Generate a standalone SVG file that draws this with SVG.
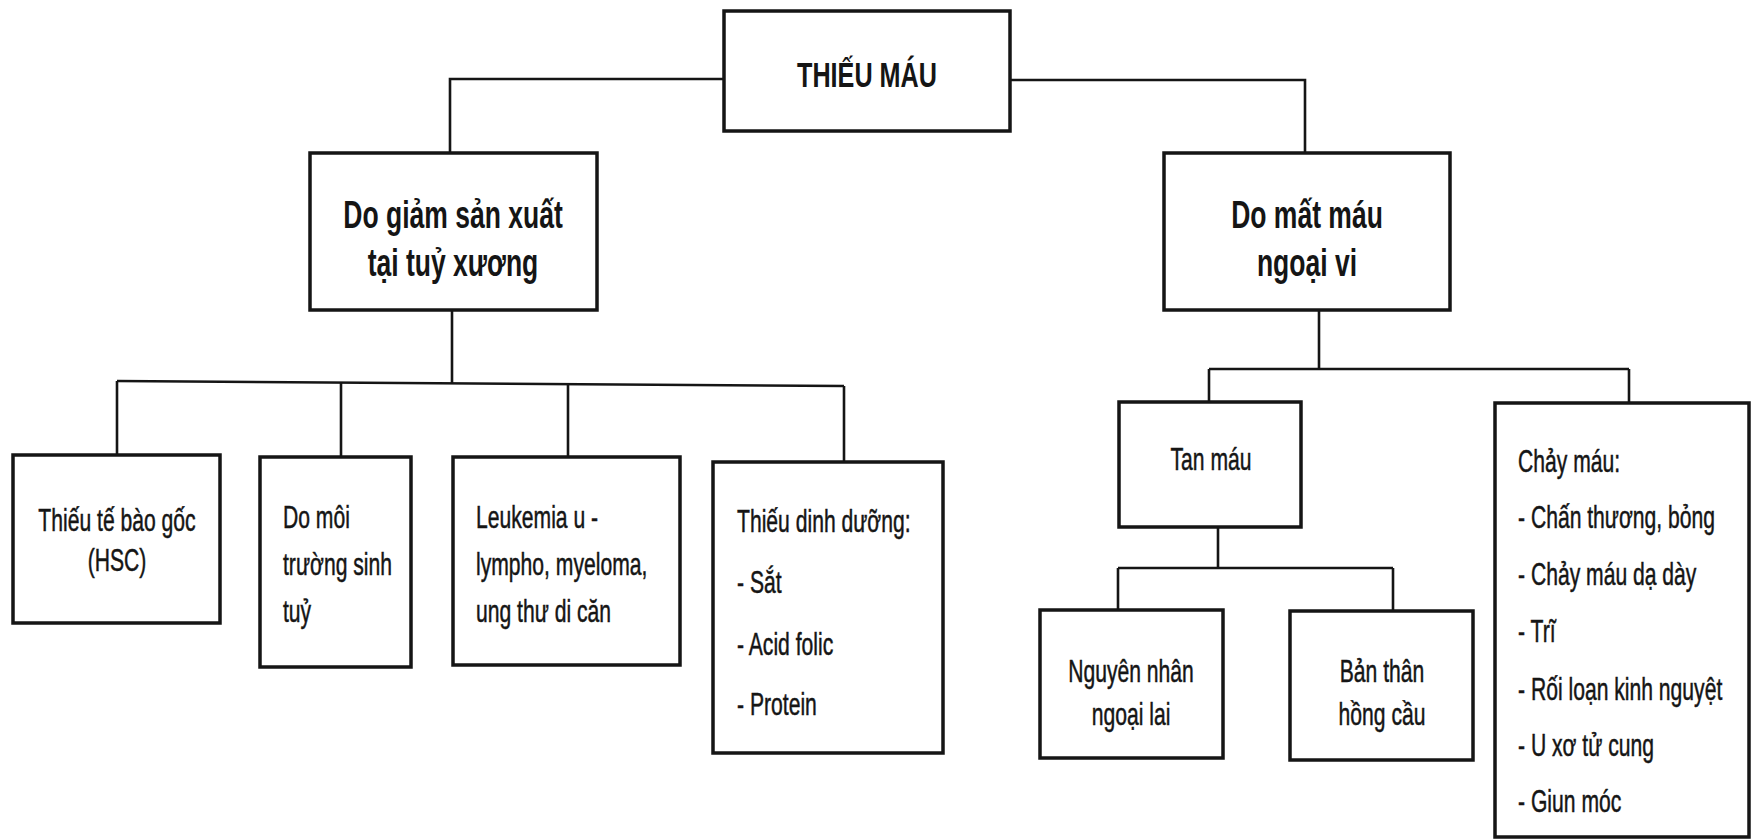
<svg xmlns="http://www.w3.org/2000/svg" width="1752" height="839" viewBox="0 0 1752 839">
<style>
.box{fill:#fff;stroke:#151515;stroke-width:3.5}
.ln{fill:none;stroke:#151515;stroke-width:2.6}
text{font-family:"Liberation Sans",Arial,sans-serif;fill:#151515}
.t{font-size:32px;stroke:#151515;stroke-width:0.5}
.b{font-size:39px;font-weight:bold}
.r{font-size:36px;font-weight:bold}
.c{text-anchor:middle}
</style>
<rect width="1752" height="839" fill="#fff"/>
<g id="connectors">
<path class="ln" d="M724,79 H450 V153"/>
<path class="ln" d="M1010,80 H1305 V153"/>
<path class="ln" d="M452,310 V383"/>
<path class="ln" d="M117,381 L844,386"/>
<path class="ln" d="M117,381 V455"/>
<path class="ln" d="M341,382 V457"/>
<path class="ln" d="M568,384 V457"/>
<path class="ln" d="M844,386 V462"/>
<path class="ln" d="M1319,310 V369"/>
<path class="ln" d="M1209,369 H1629"/>
<path class="ln" d="M1209,369 V402"/>
<path class="ln" d="M1629,369 V403"/>
<path class="ln" d="M1218,527 V568"/>
<path class="ln" d="M1118,568 H1393"/>
<path class="ln" d="M1118,568 V610"/>
<path class="ln" d="M1393,568 V611"/>
</g>
<g id="root">
<rect class="box" x="724" y="11" width="286" height="120"/>
<g transform="translate(867,0) scale(0.7,1)"><text class="r c" x="0" y="87">THIẾU MÁU</text></g>
</g>
<g id="n-sanxuat">
<rect class="box" x="310" y="153" width="287" height="157"/>
<g transform="translate(453,0) scale(0.68,1)"><text class="b c" x="0" y="228">Do giảm sản xuất</text><text class="b c" x="0" y="276">tại tuỷ xương</text></g>
</g>
<g id="n-matmau">
<rect class="box" x="1164" y="153" width="286" height="157"/>
<g transform="translate(1307,0) scale(0.68,1)"><text class="b c" x="0" y="228">Do mất máu</text><text class="b c" x="0" y="276">ngoại vi</text></g>
</g>
<g id="n-hsc">
<rect class="box" x="13" y="455" width="207" height="168"/>
<g transform="translate(117,0) scale(0.66,1)"><text class="t c" x="0" y="531">Thiếu tế bào gốc</text><text class="t c" x="0" y="571">(HSC)</text></g>
</g>
<g id="n-moitruong">
<rect class="box" x="260" y="457" width="151" height="210"/>
<g transform="translate(283,0) scale(0.66,1)"><text class="t" x="0" y="528">Do môi</text><text class="t" x="0" y="575">trường sinh</text><text class="t" x="0" y="622">tuỷ</text></g>
</g>
<g id="n-leukemia">
<rect class="box" x="453" y="457" width="227" height="208"/>
<g transform="translate(476,0) scale(0.66,1)"><text class="t" x="0" y="528">Leukemia u -</text><text class="t" x="0" y="575">lympho, myeloma,</text><text class="t" x="0" y="622">ung thư di căn</text></g>
</g>
<g id="n-dinhduong">
<rect class="box" x="713" y="462" width="230" height="291"/>
<g transform="translate(737,0) scale(0.66,1)"><text class="t" x="0" y="532">Thiếu dinh dưỡng:</text><text class="t" x="0" y="593">- Sắt</text><text class="t" x="0" y="655">- Acid folic</text><text class="t" x="0" y="715">- Protein</text></g>
</g>
<g id="n-tanmau">
<rect class="box" x="1119" y="402" width="182" height="125"/>
<g transform="translate(1211,0) scale(0.66,1)"><text class="t c" x="0" y="470">Tan máu</text></g>
</g>
<g id="n-ngoailai">
<rect class="box" x="1040" y="610" width="183" height="148"/>
<g transform="translate(1131,0) scale(0.66,1)"><text class="t c" x="0" y="682">Nguyên nhân</text><text class="t c" x="0" y="725">ngoại lai</text></g>
</g>
<g id="n-hongcau">
<rect class="box" x="1290" y="611" width="183" height="149"/>
<g transform="translate(1382,0) scale(0.66,1)"><text class="t c" x="0" y="682">Bản thân</text><text class="t c" x="0" y="725">hồng cầu</text></g>
</g>
<g id="n-chaymau">
<rect class="box" x="1495" y="403" width="254" height="434"/>
<g transform="translate(1518,0) scale(0.66,1)"><text class="t" x="0" y="472">Chảy máu:</text><text class="t" x="0" y="528">- Chấn thương, bỏng</text><text class="t" x="0" y="585">- Chảy máu dạ dày</text><text class="t" x="0" y="642">- Trĩ</text><text class="t" x="0" y="700">- Rối loạn kinh nguyệt</text><text class="t" x="0" y="756">- U xơ tử cung</text><text class="t" x="0" y="812">- Giun móc</text></g>
</g>
</svg>
